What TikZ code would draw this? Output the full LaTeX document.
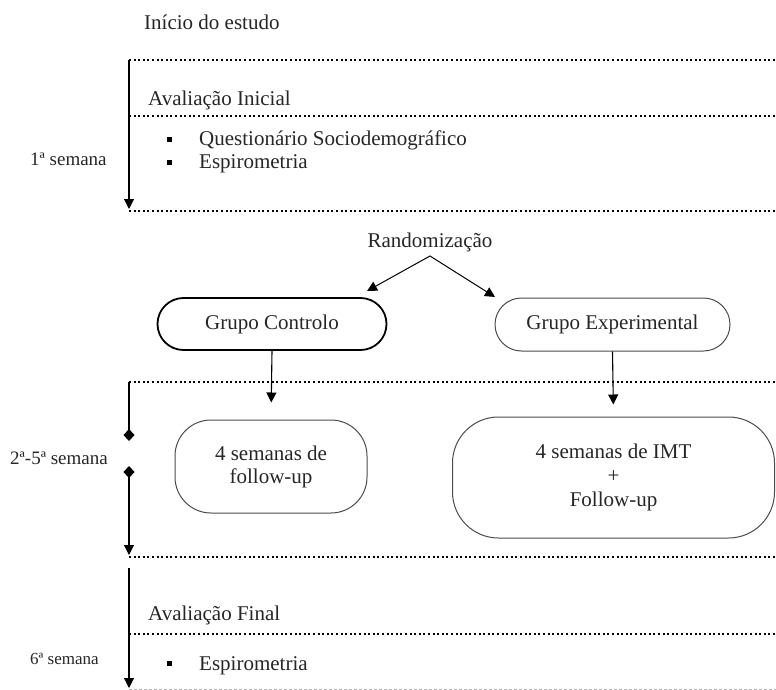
\documentclass[tikz,border=0pt]{standalone}
\usepackage{fontspec}
\setmainfont{Liberation Serif}
\usetikzlibrary{arrows.meta}
\begin{document}
\begin{tikzpicture}[x=1pt,y=-1pt,
  txt/.style={font=\fontsize{21}{24}\selectfont, text=black!85, inner sep=0pt, anchor=base west},
  small/.style={font=\fontsize{19}{22}\selectfont, text=black!85, inner sep=0pt, anchor=base west},
  dotline/.style={line width=2pt, dash pattern=on 2pt off 2.6pt},
  arr/.style={line width=1.1pt, -{Triangle[length=10pt,width=10pt]}},
  pill/.style={draw=black!70, line width=1pt, font=\fontsize{21}{23}\selectfont, text=black!85, align=center, inner sep=0pt},
  bul/.style={fill=black, minimum size=5pt, inner sep=0pt},
]
\useasboundingbox (0,0) rectangle (776,690);

% ---------- section 1 ----------
\node[txt] (inicio) at (144,30) {Início do estudo};
\coordinate (t1a) at (129,60);
\coordinate (t1b) at (129,209);
\draw[dotline] (129,60) -- (776,60);
\draw[arr] (t1a) -- (t1b);
\node[txt] (avi) at (148,106) {Avaliação Inicial};
\draw[dotline] (129,116) -- (776,116);
\node[bul] (b1) at (169,140) {};
\node[txt] (quest) at (199,146) {Questionário Sociodemográfico};
\node[bul] (b2) at (169,162) {};
\node[txt] (esp1) at (199,168) {Espirometria};
\node[small] (s1) at (30,165) {1ª semana};
\draw[dotline] (129,211) -- (776,211);

% ---------- randomization ----------
\node[txt, anchor=base] (rand) at (430,247) {Randomização};
\coordinate (rp) at (430,256);
\coordinate (rl) at (367,291);
\coordinate (rr) at (495,297);
\draw[line width=1pt, {Triangle[length=10pt,width=10pt]}-{Triangle[length=10pt,width=10pt]}] (rl) -- (rp) -- (rr);

\node[pill, draw=black, line width=1.8pt, minimum width=229pt, minimum height=52pt, rounded corners=26pt] (gc) at (272,324) {Grupo Controlo};
\node[pill, minimum width=235pt, minimum height=53pt, rounded corners=26.5pt] (ge) at (612.5,324.5) {Grupo Experimental};

% ---------- section 2 ----------
\draw[dotline] (129,382) -- (776,382);
\node[pill, minimum width=192pt, minimum height=93pt, rounded corners=36pt] (fu) at (271,466.5) {4 semanas de\\follow-up};
\node[pill, font=\fontsize{21}{24}\selectfont, minimum width=322pt, minimum height=121pt, rounded corners=46pt] (imt) at (613.5,477.5) {4 semanas de IMT\\+\\Follow-up};
\draw[arr, shorten >=17pt] (gc.south) -- (fu.north);
\draw[arr, shorten >=12pt] (ge.south) -- (imt.north);

\coordinate (t2a) at (129,382);
\coordinate (t2b) at (129,441);
\coordinate (t2c) at (129,466);
\coordinate (t2d) at (129,555);
\draw[line width=1.1pt, -{Diamond[length=12pt,width=11pt]}] (t2a) -- (t2b);
\draw[line width=1.1pt, {Diamond[length=12pt,width=11pt]}-{Triangle[length=10pt,width=10pt]}] (t2c) -- (t2d);
\node[small] (s2) at (10,464) {2ª-5ª semana};
\draw[dotline] (129,557) -- (776,557);

% ---------- section 3 ----------
\coordinate (t3a) at (129,568);
\coordinate (t3b) at (129,688);
\draw[arr] (t3a) -- (t3b);
\node[txt] (avf) at (148,620) {Avaliação Final};
\draw[dotline] (129,634) -- (776,634);
\node[small, font=\fontsize{17}{20}\selectfont] (s3) at (30,664) {6ª semana};
\node[bul] (b3) at (169,663) {};
\node[txt] (esp2) at (199,670) {Espirometria};
\draw[black!30, line width=0.8pt, dash pattern=on 3pt off 2pt] (129,689) -- (776,689);
\end{tikzpicture}
\end{document}
